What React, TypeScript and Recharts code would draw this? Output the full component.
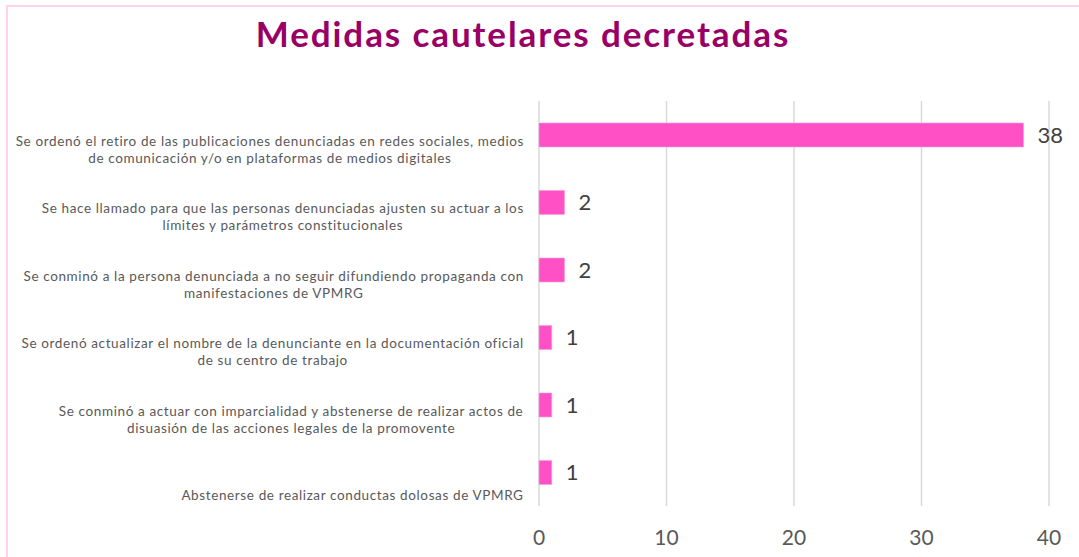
import { BarChart, Bar, XAxis, YAxis, CartesianGrid, LabelList } from "recharts"

const TITLE = "Medidas cautelares decretadas"
const PINK = "#ff50c5"
const TITLE_COLOR = "#990066"
const TEXT = "#595959"
const FONT = "Lato, 'Open Sans', sans-serif"

// each category split into the lines as they appear in the original
const measures = [
  ["Se ordenó el retiro de las publicaciones denunciadas en redes sociales, medios", "de comunicación y/o en plataformas de medios digitales"],
  ["Se hace llamado para que las personas denunciadas ajusten su actuar a los", "límites y parámetros constitucionales"],
  ["Se conminó a la persona denunciada a no seguir difundiendo propaganda con", "manifestaciones de VPMRG"],
  ["Se ordenó actualizar el nombre de la denunciante en la documentación oficial", "de su centro de trabajo"],
  ["Se conminó a actuar con imparcialidad y abstenerse de realizar actos de", "disuasión de las acciones legales de la promovente"],
  ["", "Abstenerse de realizar conductas dolosas de VPMRG"],
]
const counts = [38, 2, 2, 1, 1, 1]
const xTicks = [0, 10, 20, 30, 40]

const data = measures.map((lines, i) => ({ name: lines.join("|"), value: counts[i] }))

const LABEL_SIZE = 13.5
const LABEL_SPACING = 0.62

let ctx: CanvasRenderingContext2D | null = null
function textWidth(s: string) {
  if (!ctx) ctx = document.createElement("canvas").getContext("2d")
  if (!ctx) return s.length * 6.5
  ctx.font = `${LABEL_SIZE}px Lato`
  ;(ctx as any).letterSpacing = `${LABEL_SPACING}px`
  return ctx.measureText(s).width
}

function CategoryTick(props: any) {
  const { x, y, payload } = props
  const lines: string[] = String(payload.value).split("|")
  const w = Math.max(...lines.map((l) => textWidth(l)))
  const right = x - 7
  const cx = right - w / 2
  return (
    <g>
      {lines.map((l, i) =>
        l ? (
          <text
            key={i}
            x={cx}
            y={y + 6 + i * 17}
            textAnchor="middle"
            dominantBaseline="central"
            fontSize={LABEL_SIZE}
            fontFamily={FONT}
            letterSpacing={LABEL_SPACING}
            fill={TEXT}
          >
            {l}
          </text>
        ) : null
      )}
    </g>
  )
}

function ValueTick(props: any) {
  const { x, y, payload } = props
  return (
    <text x={x} y={y + 22} textAnchor="middle" dominantBaseline="central" fontSize={21} fontFamily={FONT} fill={TEXT}>
      {payload.value}
    </text>
  )
}

export default function App() {
  return (
    <div style={{ position: "absolute", left: 0, top: 0, width: 1079, height: 557, background: "#fff", overflow: "hidden", fontFamily: FONT }}>
      <div
        style={{
          position: "absolute",
          left: 6,
          top: 5,
          width: 1100,
          height: 600,
          borderLeft: "2px solid #ffd3f0",
          borderTop: "2px solid #ffd3f0",
        }}
      />
      <div
        style={{
          position: "absolute",
          left: 0,
          top: 10,
          width: 1046,
          textAlign: "center",
          fontSize: 35,
          fontWeight: 700,
          letterSpacing: 1.9,
          color: TITLE_COLOR,
          lineHeight: "46px",
        }}
      >
        {TITLE}
      </div>
      <div style={{ position: "absolute", left: 0, top: 0 }}>
        <BarChart
          width={1079}
          height={557}
          data={data}
          layout="vertical"
          margin={{ top: 101, right: 30, bottom: 0, left: 0 }}
        >
          <CartesianGrid horizontal={false} stroke="#d9d9d9" strokeWidth={1.5} />
          <XAxis
            type="number"
            domain={[0, 40]}
            ticks={xTicks}
            axisLine={false}
            tickLine={false}
            height={51}
            tick={<ValueTick />}
            interval={0}
          />
          <YAxis
            type="category"
            dataKey="name"
            width={539}
            axisLine={false}
            tickLine={false}
            tick={<CategoryTick />}
            interval={0}
          />
          <Bar dataKey="value" fill={PINK} stroke="#ff9ade" strokeWidth={0.6} barSize={24} isAnimationActive={false}>
            <LabelList dataKey="value" position="right" offset={14} fontSize={22} fontFamily={FONT} fill="#404040" />
          </Bar>
        </BarChart>
      </div>
    </div>
  )
}
